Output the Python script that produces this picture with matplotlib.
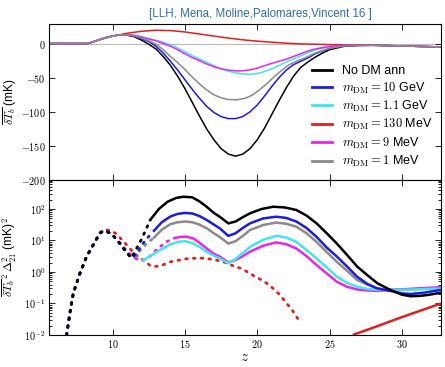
import numpy as np
import matplotlib
matplotlib.use("Agg")
import matplotlib.pyplot as plt
from matplotlib.ticker import FuncFormatter, FixedLocator, LogLocator, NullFormatter
from matplotlib.lines import Line2D

plt.rcParams['mathtext.fontset'] = 'cm'
plt.rcParams['font.family'] = ['Liberation Sans', 'DejaVu Sans']

# ---------------- data: top panel (mean brightness temperature, mK) ----------------
labels = ["No DM ann", r"$m_{\rm DM} = 10$ GeV", r"$m_{\rm DM} = 1.1$ GeV",
          r"$m_{\rm DM} = 130$ MeV", r"$m_{\rm DM} = 9$ MeV", r"$m_{\rm DM} = 1$ MeV"]
colors = ["#000000", "#1c1ce0", "#3fe6ee", "#e41e1e", "#ee22ee", "#8a8a8a"]

z_black_T = [5.6, 8.3, 9, 9.5, 10, 10.5, 11, 11.5, 12, 12.5, 13, 13.5, 14, 14.5, 15, 15.5, 16, 16.5,
             17, 17.5, 18, 18.5, 19, 19.5, 20, 20.5, 21, 21.5, 22, 22.5, 23, 23.5, 24, 24.5, 25,
             26, 27, 28, 30, 32.7]
T_black = [0, 0, 5, 8.5, 11, 12.8, 12.3, 10, 5, -1, -8, -19, -32, -48, -66, -86, -106, -125,
           -141, -154, -162, -165, -162, -154, -141, -124, -104, -84, -65, -48, -35, -27, -20, -14, -9,
           -4, -2.5, -2.5, -3.5, -5]

z_blue_T = [5.6, 8.3, 9, 9.5, 10, 10.5, 11, 11.5, 12, 12.5, 13, 13.5, 14, 14.5, 15, 15.5, 16, 16.5,
            17, 17.5, 18, 18.5, 19, 19.5, 20, 20.5, 21, 21.5, 22, 22.5, 23, 23.5, 24, 25, 26, 28, 30, 32.7]
T_blue = [0, 0, 5, 8.5, 11, 12.8, 12.6, 10.5, 7, 3, -4, -14, -26, -39, -53, -67, -80, -92,
          -101, -107, -110, -110, -107, -100, -90, -77, -63, -50, -39, -31, -26, -21, -15, -7, -3.5, -2.5, -3.5, -5]

z_cyan_T = [5.6, 8.3, 9, 9.5, 10, 10.5, 11, 11.5, 12, 12.5, 13, 13.5, 14, 14.5, 15, 15.5, 16, 16.5,
            17, 17.5, 18, 18.5, 19, 19.5, 20, 20.5, 21, 21.5, 22, 22.5, 23, 23.5, 24, 25, 26, 28, 30, 32.7]
T_cyan = [0, 0, 5, 8.5, 11, 12.8, 13, 12, 10, 7.5, 5, 2, -2, -6.5, -12, -17.5, -22.5, -27.5,
          -32.5, -37, -40.5, -43, -44.5, -45, -44, -41, -37, -32, -27, -22.5, -18, -13.5, -9.5, -4.5, -2.5, -2.5, -3.5, -5]

z_red_T = [5.6, 8.3, 9, 10, 11, 12, 13, 14, 15, 16, 17, 18, 19, 20, 21, 22, 23, 25, 28, 30, 32.7]
T_red = [0, 0, 5, 11, 15, 18, 19.5, 19, 17, 14, 11, 8, 5.5, 3.5, 2, 0.5, -0.5, -1.5, -2.5, -3.5, -5]

z_mag_T = [5.6, 8.3, 9, 9.5, 10, 10.5, 11, 11.5, 12, 12.5, 13, 13.5, 14, 14.5, 15, 15.5, 16, 16.5,
           17, 17.5, 18, 18.5, 19, 19.5, 20, 20.5, 21, 21.5, 22, 22.5, 23, 23.5, 24, 25, 26, 28, 30, 32.7]
T_mag = [0, 0, 5, 8.5, 11, 12.8, 13, 12, 9.5, 6.5, 4, 0, -4, -9, -15, -20.5, -25, -30,
         -34, -37, -39, -40, -40, -38.5, -36, -32.5, -29, -26, -23, -19, -15, -11, -8, -4, -2.5, -2.5, -3.5, -5]

z_gray_T = [5.6, 8.3, 9, 9.5, 10, 10.5, 11, 11.5, 12, 12.5, 13, 13.5, 14, 14.5, 15, 15.5, 16, 16.5,
            17, 17.5, 18, 18.6, 19.2, 19.7, 20.2, 20.7, 21.2, 21.7, 22.2, 22.7, 23.2, 24, 25, 26, 28, 30, 32.7]
T_gray = [0, 0, 5, 8.5, 11, 12.8, 12.8, 11, 8, 4, -1, -9, -19, -28, -38, -49, -59, -68,
          -75, -79.5, -82, -82.5, -80, -75, -67, -58, -48, -39, -31, -26, -22, -14, -7, -3.5, -2.5, -3.5, -5]

# ---------------- data: bottom panel (power spectrum, mK^2) ----------------
# early (dotted) parts
z_black_e = [6.82, 7.05, 7.28, 7.74, 8.2, 8.66, 9.12, 9.35, 9.6, 10.0, 10.5, 11.0, 11.3, 11.6, 12.0, 12.3, 12.6]
P_black_e = [0.01, 0.05, 0.21, 0.9, 3.1, 7.2, 17, 20, 19.5, 15, 8, 4, 2.8, 5, 11, 22, 45]
z_blue_e = [6.82, 7.05, 7.28, 7.74, 8.2, 8.66, 9.12, 9.35, 9.6, 10.0, 10.5, 11.0, 11.3, 11.6, 12.0, 12.4, 12.8]
P_blue_e = [0.01, 0.05, 0.21, 0.9, 3.1, 7.2, 17, 20, 19.5, 15, 8, 4, 2.8, 3.6, 7, 12, 19]
z_gray_e = [6.82, 7.05, 7.28, 7.74, 8.2, 8.66, 9.12, 9.35, 9.6, 10.0, 10.5, 11.0, 11.3, 11.6, 12.0, 12.4, 12.8]
P_gray_e = [0.01, 0.05, 0.21, 0.9, 3.1, 7.2, 17, 20, 19.5, 15, 8, 4, 2.8, 3.1, 5.5, 8.5, 11.5]
z_cyan_e = [6.82, 7.05, 7.28, 7.74, 8.2, 8.66, 9.12, 9.35, 9.6, 10.0, 10.5, 11.0, 11.5, 12.0]
P_cyan_e = [0.01, 0.05, 0.21, 0.9, 3.1, 7.2, 17, 20, 19.5, 15, 8.5, 4.5, 2.8, 2.2]
z_mag_e = [6.82, 7.05, 7.28, 7.74, 8.2, 8.66, 9.12, 9.35, 9.6, 10.0, 10.5, 11.0, 11.5, 12.0, 12.4, 12.8, 13.3, 13.8, 14.3]
P_mag_e = [0.01, 0.05, 0.21, 0.9, 3.1, 7.2, 17, 20, 19.5, 15, 8.5, 4.5, 2.8, 2.3, 2.6, 4, 6.5, 9.5, 12]
z_red_e = [6.82, 7.05, 7.28, 7.74, 8.2, 8.66, 9.12, 9.5, 9.8, 10.2, 10.7, 11.2, 11.7, 12.2, 12.6, 13.0,
           13.5, 14.0, 15.0, 16.0, 17.0, 17.8, 18.2, 18.96, 19.4, 19.8, 20.2, 20.65, 21.1, 21.5, 21.9, 22.4, 22.9]
P_red_e = [0.01, 0.05, 0.21, 0.9, 3.1, 7.5, 18, 22, 21, 17, 10, 5.5, 3.2, 2.2, 1.6, 1.5,
           1.7, 2.1, 2.6, 2.8, 2.5, 2.0, 1.66, 1.26, 0.95, 0.74, 0.59, 0.44, 0.30, 0.2, 0.12, 0.063, 0.028]

# late (solid) parts
z_black_l = [12.6, 13.2, 13.8, 14.4, 14.9, 15.5, 16.0, 16.5, 17.0, 17.4, 18.0, 18.5, 19.0, 19.5, 20.3, 21.1,
             21.9, 22.7, 23.4, 24.1, 24.8, 25.5, 26.2, 26.9, 27.6, 28.3, 29.2, 30.0, 30.6, 31.3, 31.9, 32.7]
P_black_l = [45, 100, 170, 225, 245, 235, 175, 118, 75, 57, 35, 40, 55, 73, 100, 118,
             112, 93, 62, 35, 17, 8, 3.5, 1.5, 0.8, 0.44, 0.27, 0.19, 0.17, 0.175, 0.19, 0.22]
z_blue_l = [12.8, 13.4, 14.0, 14.5, 15.0, 15.5, 16.0, 16.5, 17.0, 17.4, 18.0, 18.5, 19.0, 19.5, 20.4, 21.3,
            22.0, 22.7, 23.4, 24.1, 24.8, 25.5, 26.2, 26.9, 27.6, 28.3, 29.2, 30.0, 30.6, 31.5, 32.7]
P_blue_l = [19, 38, 58, 70, 75, 72, 60, 45, 32, 24.5, 14, 17, 25, 35, 50, 57,
            52, 40, 25, 13, 6, 3.1, 1.5, 0.71, 0.42, 0.3, 0.25, 0.21, 0.2, 0.22, 0.27]
z_cyan_l = [12.0, 12.5, 13.0, 13.5, 14.0, 14.5, 15.0, 15.5, 16.0, 16.5, 17.0, 17.4, 18.0, 18.5, 19.0, 19.5,
            20.4, 21.3, 22.0, 22.7, 23.4, 24.1, 24.8, 25.5, 26.2, 26.9, 27.6, 28.3, 29.5, 31.0, 32.7]
P_cyan_l = [2.2, 3.0, 4.2, 5.7, 7.5, 9, 9.5, 8.3, 6.3, 4.4, 3.3, 2.7, 1.9, 2.6, 4.0, 6.3,
            10.5, 14, 12.5, 9, 5, 2.7, 1.4, 0.71, 0.45, 0.34, 0.29, 0.27, 0.27, 0.28, 0.3]
z_mag_l = [14.3, 14.7, 15.1, 15.6, 16.0, 16.5, 17.0, 17.4, 18.0, 18.5, 19.0, 19.5, 20.4, 21.3,
           22.0, 22.7, 23.4, 24.1, 24.8, 25.5, 26.2, 26.9, 27.6, 28.3, 29.2, 30.5, 32.7]
P_mag_l = [12, 13, 13.2, 11.5, 8.5, 5.6, 3.8, 3.1, 2.0, 2.4, 3.2, 4.4, 6.8, 8.7,
           7.6, 5.6, 3.2, 1.66, 0.9, 0.49, 0.34, 0.28, 0.26, 0.25, 0.27, 0.29, 0.33]
z_gray_l = [12.8, 13.4, 14.0, 14.5, 15.0, 15.5, 16.0, 16.5, 17.0, 17.4, 18.0, 18.5, 19.0, 19.5, 20.4, 21.3,
            22.0, 22.7, 23.4, 24.1, 24.8, 25.5, 26.2, 26.9, 27.6, 28.3, 29.2, 30.5, 32.7]
P_gray_l = [11.5, 22, 33, 38, 40, 38, 32, 24.5, 17, 13, 8, 9.5, 14, 21.5, 31, 37,
            34, 27.5, 17, 9, 4.3, 2.1, 1.1, 0.56, 0.4, 0.3, 0.27, 0.28, 0.32]
z_red_l = [26.6, 28.0, 30.0, 32.7]
P_red_l = [0.01, 0.017, 0.037, 0.1]

# ---------------- figure ----------------
fig = plt.figure(figsize=(4.45, 3.67), dpi=100)
ax1 = fig.add_axes([0.110, 0.5095, 0.881, 0.425])
ax2 = fig.add_axes([0.110, 0.0872, 0.881, 0.4223], sharex=ax1)

top_series = [(z_black_T, T_black), (z_blue_T, T_blue), (z_cyan_T, T_cyan),
              (z_red_T, T_red), (z_mag_T, T_mag), (z_gray_T, T_gray)]
ax1.axhline(0, color="#bbbbbb", lw=0.8, zorder=1)
order = [3, 5, 2, 4, 1, 0]
for i in order:
    zz, tt = top_series[i]
    ax1.plot(zz, tt, color=colors[i], lw=1.1, zorder=2 + i * 0.01)

ax1.set_ylim(-200, 28.6)
ax1.set_xlim(5.6, 32.7)
ax1.set_yticks([0, -50, -100, -150, -200])
ax1.yaxis.set_major_formatter(FuncFormatter(lambda v, p: r"$%d$" % int(v)))
ax1.set_ylabel(r"$\overline{\delta T_b}$ (mK)", fontsize=8.6)
ax1.yaxis.set_label_coords(-0.077, 0.5)
plt.setp(ax1.get_xticklabels(), visible=False)

handles = [Line2D([], [], color=c, lw=2) for c in colors]
ax1.legend(handles, labels, loc="lower right", frameon=False, fontsize=9,
           handlelength=1.6, handletextpad=0.8, labelspacing=0.26, borderaxespad=0.3,
           bbox_to_anchor=(1.0, 0.014))

# bottom
dot = dict(lw=2.0, linestyle=(0, (0.6, 2.2)), dash_capstyle="round")
early = [(z_red_e, P_red_e, 3), (z_cyan_e, P_cyan_e, 2), (z_mag_e, P_mag_e, 4),
         (z_gray_e, P_gray_e, 5), (z_blue_e, P_blue_e, 1), (z_black_e, P_black_e, 0)]
for zz, pp, ci in early:
    ax2.plot(zz, pp, color=colors[ci], **dot)
late = [(z_red_l, P_red_l, 3), (z_gray_l, P_gray_l, 5), (z_mag_l, P_mag_l, 4),
        (z_cyan_l, P_cyan_l, 2), (z_blue_l, P_blue_l, 1), (z_black_l, P_black_l, 0)]
for zz, pp, ci in late:
    ax2.plot(zz, pp, color=colors[ci], lw=1.8, solid_capstyle="butt")

ax2.set_yscale("log")
ax2.set_ylim(1e-2, 10 ** 2.92)
ax2.yaxis.set_major_locator(FixedLocator([1e-2, 1e-1, 1, 10, 100]))
ax2.yaxis.set_major_formatter(FuncFormatter(lambda v, p: r"$10^{%d}$" % int(round(np.log10(v)))))
ax2.yaxis.set_minor_locator(LogLocator(base=10, subs=np.arange(2, 10)))
ax2.yaxis.set_minor_formatter(NullFormatter())
ax2.set_xticks([10, 15, 20, 25, 30])
ax2.xaxis.set_major_formatter(FuncFormatter(lambda v, p: r"$%d$" % int(v)))
ax2.set_xlabel(r"$z$", fontsize=11, labelpad=0)
ax2.set_ylabel(r"$\overline{\delta T_b}^{\,2}\,\Delta^2_{21}$ (mK)$^2$", fontsize=8.6)
ax2.yaxis.set_label_coords(-0.077, 0.5)

for ax in (ax1, ax2):
    ax.tick_params(which="both", direction="in", top=True, right=True, labelsize=7.3, width=0.6)
    ax.tick_params(which="major", length=4, pad=2.5)
    ax.tick_params(which="minor", length=2)
    for s in ax.spines.values():
        s.set_linewidth(0.8)

fig.text(0.585, 0.962, "[LLH, Mena, Moline,Palomares,Vincent 16 ]", color="#2e6ea6",
         fontsize=8.3, ha="center", va="center")

fig.savefig("out.png", dpi=100)
